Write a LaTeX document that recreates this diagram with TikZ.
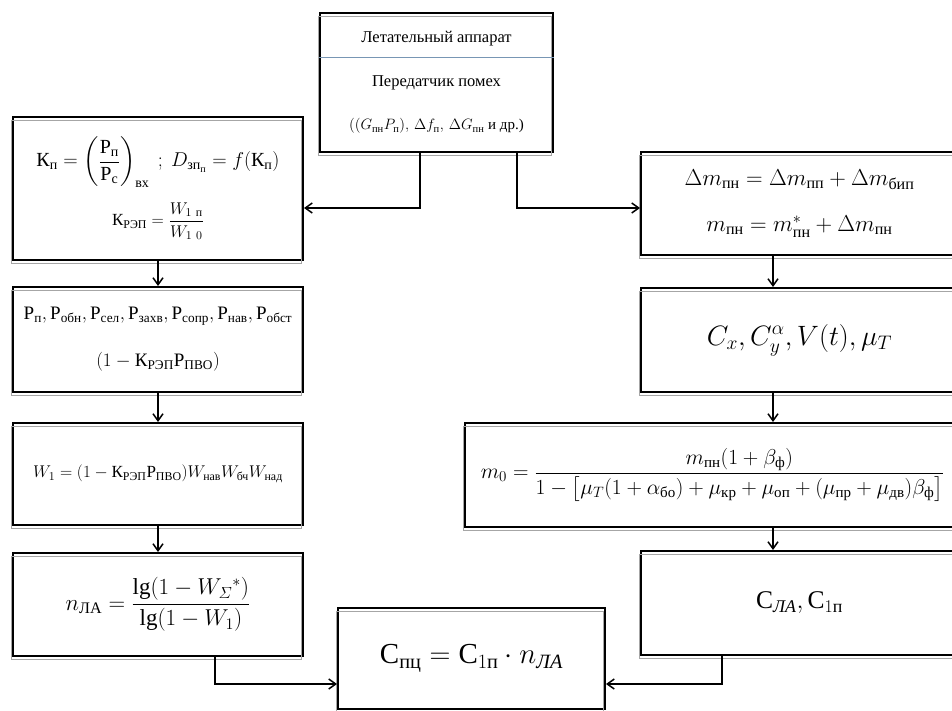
\RequirePackage{fix-cm}
\documentclass[tikz,border=0pt]{standalone}
\usepackage{amsmath}
\usepackage{fontspec}
\setmainfont{Liberation Serif}
\usetikzlibrary{arrows.meta}
\definecolor{sepblue}{RGB}{120,150,180}
\newcommand{\cy}[1]{\text{#1}}
\newcommand{\cyi}[1]{\text{\itshape #1}}
\newcommand{\fsz}[1]{\fontsize{#1}{#1}\selectfont}

\begin{document}
\begin{tikzpicture}[x=1pt,y=-1pt,
  box/.style={draw,line width=2pt,fill=white,inner sep=0pt,align=center,
    postaction={draw=black!35,line width=1pt,transform canvas={shift={(-1.5pt,-3.5pt)}}}},
  arr/.style={-{Straight Barb[length=7pt,width=10pt]},line width=1.5pt},
  sepline/.style={sepblue,line width=0.8pt}
]
  \useasboundingbox (0,0) rectangle (952,711);
  \clip (0,0) rectangle (952,711);

  % top block
  \node[box,minimum width=233,minimum height=139,font=\fsz{16.5}] (la) at (436.5,82.5)
    {Летательный аппарат\\[27pt]Передатчик помех\\[27pt]
     {\fsz{15}$((G_{\cy{пн}}P_{\cy{п}}),\,\Delta f_{\cy{п}},\,\Delta G_{\cy{пн}}$ и др.)}};
  \draw[sepline] (la.west |- 0,57) -- (la.east |- 0,57);

  % left column
  \node[box,minimum width=290,minimum height=143,font=\fsz{20}] (kp) at (158,188.5)
    {$\cy{К}_{\cy{п}}=\left(\dfrac{\cy{Р}_{\cy{п}}}{\cy{Р}_{\cy{с}}}\right)_{\cy{вх}}\ ;\ D_{\cy{зп}_{\cy{п}}}=f(\cy{К}_{\cy{п}})$\\[14pt]
     {\fsz{17}$\cy{К}_{\cy{РЭП}}=\dfrac{W_{1\ \cy{п}}}{W_{1\ 0}}$}};
  \node[box,minimum width=290,minimum height=105,font=\fsz{19}] (pp) at (158,339.5)
    {$\cy{Р}_{\cy{п}},\cy{Р}_{\cy{обн}},\cy{Р}_{\cy{сел}},\cy{Р}_{\cy{захв}},\cy{Р}_{\cy{сопр}},\cy{Р}_{\cy{нав}},\cy{Р}_{\cy{обст}}$\\[26pt]
     $(1-\cy{К}_{\cy{РЭП}}\cy{Р}_{\cy{ПВО}})$};
  \node[box,minimum width=290,minimum height=102,font=\fsz{17}] (wone) at (158,474)
    {$W_1=(1-\cy{К}_{\cy{РЭП}}\cy{Р}_{\cy{ПВО}})W_{\cy{нав}}W_{\cy{бч}}W_{\cy{над}}$};
  \node[box,minimum width=290,minimum height=103,font=\fsz{23}] (nla) at (158,604.5)
    {$n_{\cy{ЛА}}=\dfrac{\lg(1-W_{\varSigma}{}^{*})}{\lg(1-W_1)}$};

  % bottom result
  \node[box,minimum width=267,minimum height=101,font=\fsz{29}] (cpc) at (471.5,658.5)
    {$\cy{С}_{\cy{пц}}=\cy{С}_{1\cy{п}}\cdot n_{\cyi{ЛА}}$};

  % right column
  \node[box,minimum width=317,minimum height=103,font=\fsz{23}] (mpn) at (799.5,203.5)
    {$\Delta m_{\cy{пн}}=\Delta m_{\cy{пп}}+\Delta m_{\cy{бип}}$\\[23pt]
     $m_{\cy{пн}}=m^{*}_{\cy{пн}}+\Delta m_{\cy{пн}}$};
  \node[box,minimum width=317,minimum height=104,font=\fsz{28}] (cx) at (799.5,340)
    {$C_x,C_y^{\alpha},V(t),\mu_T$};
  \node[box,minimum width=495,minimum height=104,font=\fsz{21.5}] (mzero) at (712.5,475)
    {$m_0=\dfrac{m_{\cy{пн}}(1+\beta_{\cy{ф}})}{1-\bigl[\mu_T(1+\alpha_{\cy{бо}})+\mu_{\cy{кр}}+\mu_{\cy{оп}}+(\mu_{\cy{пр}}+\mu_{\cy{дв}})\beta_{\cy{ф}}\bigr]}$};
  \node[box,minimum width=317,minimum height=104,font=\fsz{25.5}] (cla) at (799.5,603)
    {$\cy{С}_{\cyi{ЛА}},\cy{С}_{1\cy{п}}$};

  \coordinate (rcol) at (773,0);
  \coordinate (lowy) at (0,684);

  % connectors
  \draw[arr] ([xshift=-16.5]la.south) |- ([yshift=-19.5]kp.east);
  \draw[arr] ([xshift=80.5]la.south) |- ([yshift=-4.5]mpn.west);
  \draw[arr] (kp) -- (pp);
  \draw[arr] (pp) -- (wone);
  \draw[arr] (wone) -- (nla);
  \draw[arr] (mpn.south -| rcol) -- (cx.north -| rcol);
  \draw[arr] (cx.south -| rcol) -- (mzero.north -| rcol);
  \draw[arr] (mzero.south -| rcol) -- (cla.north -| rcol);
  \draw[arr] ([xshift=57]nla.south) |- (cpc.west |- lowy);
  \draw[arr] ([xshift=-77.5]cla.south) |- (cpc.east |- lowy);
\end{tikzpicture}
\end{document}
